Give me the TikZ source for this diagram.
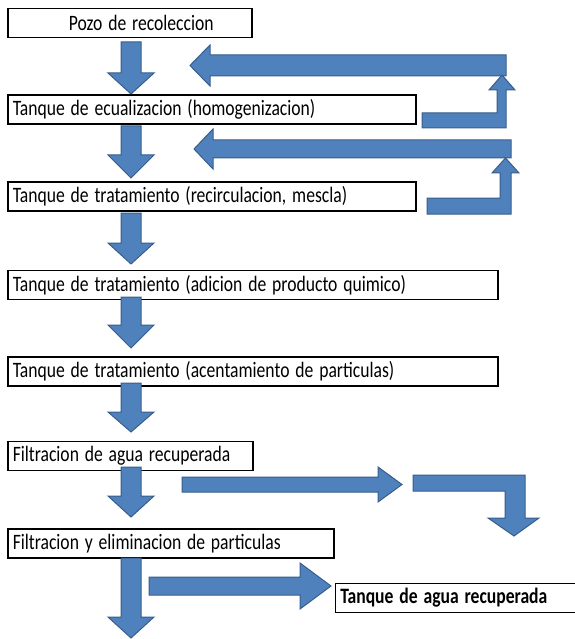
\documentclass[tikz,border=0pt]{standalone}
\usepackage{fontspec}
\usepackage{graphicx}
\setmainfont{Carlito}
\usetikzlibrary{positioning}
\definecolor{arrowfill}{RGB}{79,129,189}
\definecolor{arrowedge}{RGB}{56,93,138}
\newcommand{\narrow}[1]{\scalebox{0.8}[1]{#1}}

\begin{document}
\begin{tikzpicture}[
    x=1pt, y=1pt,
    box/.style={rectangle, draw, line width=1.5pt, anchor=north west, minimum height=29pt, inner xsep=5pt, inner ysep=0pt, text width=#1, align=left, font=\fontsize{22}{24}\selectfont},
    fat/.style={fill=arrowfill, draw=arrowedge, line width=1pt, line join=miter}
]
\useasboundingbox (0,0) rectangle (574,-639);

% Boxes
\node[box=234pt, align=center] (pozo) at (7,-8) {\hspace*{23pt}\narrow{Pozo de recoleccion}};
\node[box=398pt, below=56pt of pozo.south west, anchor=north west] (ecual) {\narrow{Tanque de ecualizacion (homogenizacion)}};
\node[box=398pt, below=56pt of ecual.south west, anchor=north west] (recirc) {\narrow{Tanque de tratamiento (recirculacion, mescla)}};
\node[box=480pt, below=58pt of recirc.south west, anchor=north west] (quimico) {\narrow{Tanque de tratamiento (adicion de producto quimico)}};
\node[box=480pt, below=56pt of quimico.south west, anchor=north west] (acent) {\narrow{Tanque de tratamiento (acentamiento de particulas)}};
\node[box=235pt, below=54pt of acent.south west, anchor=north west] (filtra) {\narrow{Filtracion de agua recuperada}};
\node[box=316pt, below=57pt of filtra.south west, anchor=north west] (elimina) {\narrow{Filtracion y eliminacion de particulas}};
\node[box=230pt, below=24pt of elimina.south east, anchor=north west] (recup) {\narrow{\textbf{Tanque de agua recuperada}}};

% Arrows down
\foreach \yt/\yb/\yp in {42/73/94, 126/155/178, 213/243/264, 297/325/348, 383/412/432, 467/496/517, 558/617/638}
  \filldraw[fat] (121,-\yt) -- (141,-\yt) -- (141,-\yb) -- (154,-\yb) -- (131,-\yp) -- (108,-\yb) -- (121,-\yb) -- cycle;

% Recirculation
\filldraw[fat] (506,-55) -- (210,-55) -- (210,-45) -- (190,-65.5) -- (210,-86) -- (210,-76) -- (506,-76) -- cycle;
\filldraw[fat] (422,-113) -- (497,-113) -- (497,-90) -- (489,-90) -- (502,-75) -- (515,-90) -- (506,-90) -- (506,-128) -- (422,-128) -- cycle;
\filldraw[fat] (511,-140) -- (213,-140) -- (213,-129) -- (194,-149) -- (213,-169) -- (213,-158) -- (511,-158) -- cycle;
\filldraw[fat] (427,-198) -- (500,-198) -- (500,-173) -- (492,-173) -- (505.5,-158) -- (519,-173) -- (511,-173) -- (511,-214) -- (427,-214) -- cycle;

% Side arrows
\filldraw[fat] (182,-477) -- (378,-477) -- (378,-467) -- (402,-484.5) -- (378,-502) -- (378,-492) -- (182,-492) -- cycle;
\filldraw[fat] (413,-475) -- (525,-475) -- (525,-518) -- (539,-518) -- (514,-536) -- (488,-518) -- (505,-518) -- (505,-491) -- (413,-491) -- cycle;
\filldraw[fat] (149,-577) -- (300,-577) -- (300,-563) -- (331,-586) -- (300,-609) -- (300,-595) -- (149,-595) -- cycle;

\end{tikzpicture}
\end{document}
